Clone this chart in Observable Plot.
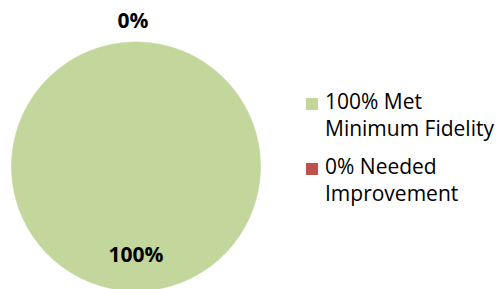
<!DOCTYPE html>
<html>
<head>
<meta charset="utf-8">
<script src="https://cdn.jsdelivr.net/npm/d3@7"></script>
<script src="https://cdn.jsdelivr.net/npm/@observablehq/plot@0.6"></script>
<style>
  html, body { margin: 0; padding: 0; background: #fff; }
  #wrap { position: relative; width: 497px; height: 289px; overflow: hidden; font-family: "Open Sans", sans-serif; }
  #legend { position: absolute; left: 306px; top: 88px; font-size: 21px; line-height: 27px; color: #000; }
  .item { position: relative; padding-left: 19px; margin-bottom: 11px; white-space: nowrap; }
  .sw { position: absolute; left: 0; top: 9.5px; width: 12px; height: 12px; }
</style>
</head>
<body>
<div id="wrap"><div id="chart"></div><div id="legend"></div></div>
<script>
const categories = ["Met Minimum Fidelity", "Needed Improvement"];
const values = [100, 0];
const sliceLabels = ["100%", "0%"];
const legendLines = [["100% Met", "Minimum Fidelity"], ["0% Needed", "Improvement"]];
const colors = ["#c3d69b", "#c0504d"];

const arcs = d3.pie().sort(null).startAngle(0).endAngle(2 * Math.PI)(values);

const marks = [];
arcs.forEach((a, i) => {
  const span = a.endAngle - a.startAngle;
  if (span <= 0) return;
  const n = Math.max(2, Math.ceil(span / (Math.PI / 180)));
  const pts = [];
  if (span < 2 * Math.PI - 1e-9) pts.push({x: 0, y: 0});
  for (let k = 0; k <= n; k++) {
    const t = a.startAngle + span * k / n;
    pts.push({x: Math.sin(t), y: Math.cos(t)});
  }
  marks.push(Plot.line(pts, {x: "x", y: "y", fill: colors[i], stroke: colors[i], strokeWidth: 0.5}));
});

const labelData = arcs.map((a, i) => {
  const mid = (a.startAngle + a.endAngle) / 2;
  const rr = values[i] > 0 ? 0.71 : 1.17;
  return {x: Math.sin(mid) * rr, y: Math.cos(mid) * rr, label: sliceLabels[i], zero: values[i] === 0};
});
marks.push(Plot.text(labelData.filter(d => !d.zero), {
  x: "x", y: "y", text: "label",
  fontSize: 21, fontWeight: "bold", fill: "#000",
  fontFamily: "Open Sans, sans-serif"
}));
marks.push(Plot.text(labelData.filter(d => d.zero), {
  x: "x", y: "y", text: "label", dx: -3,
  fontSize: 21, fontWeight: "bold", fill: "#000",
  fontFamily: "Open Sans, sans-serif"
}));

const chart = Plot.plot({
  width: 497, height: 289,
  margin: 0,
  x: {domain: [-1, 1], range: [11, 260], axis: null},
  y: {domain: [-1, 1], range: [290.5, 41.5], axis: null},
  style: {background: "transparent", fontFamily: "Open Sans, sans-serif"},
  marks
});
document.getElementById("chart").appendChild(chart);

const legend = document.getElementById("legend");
categories.forEach((c, i) => {
  const item = document.createElement("div");
  item.className = "item";
  const sw = document.createElement("span");
  sw.className = "sw";
  sw.style.background = colors[i];
  item.appendChild(sw);
  legendLines[i].forEach(line => {
    const d = document.createElement("div");
    d.textContent = line;
    item.appendChild(d);
  });
  legend.appendChild(item);
});
</script>
</body>
</html>
